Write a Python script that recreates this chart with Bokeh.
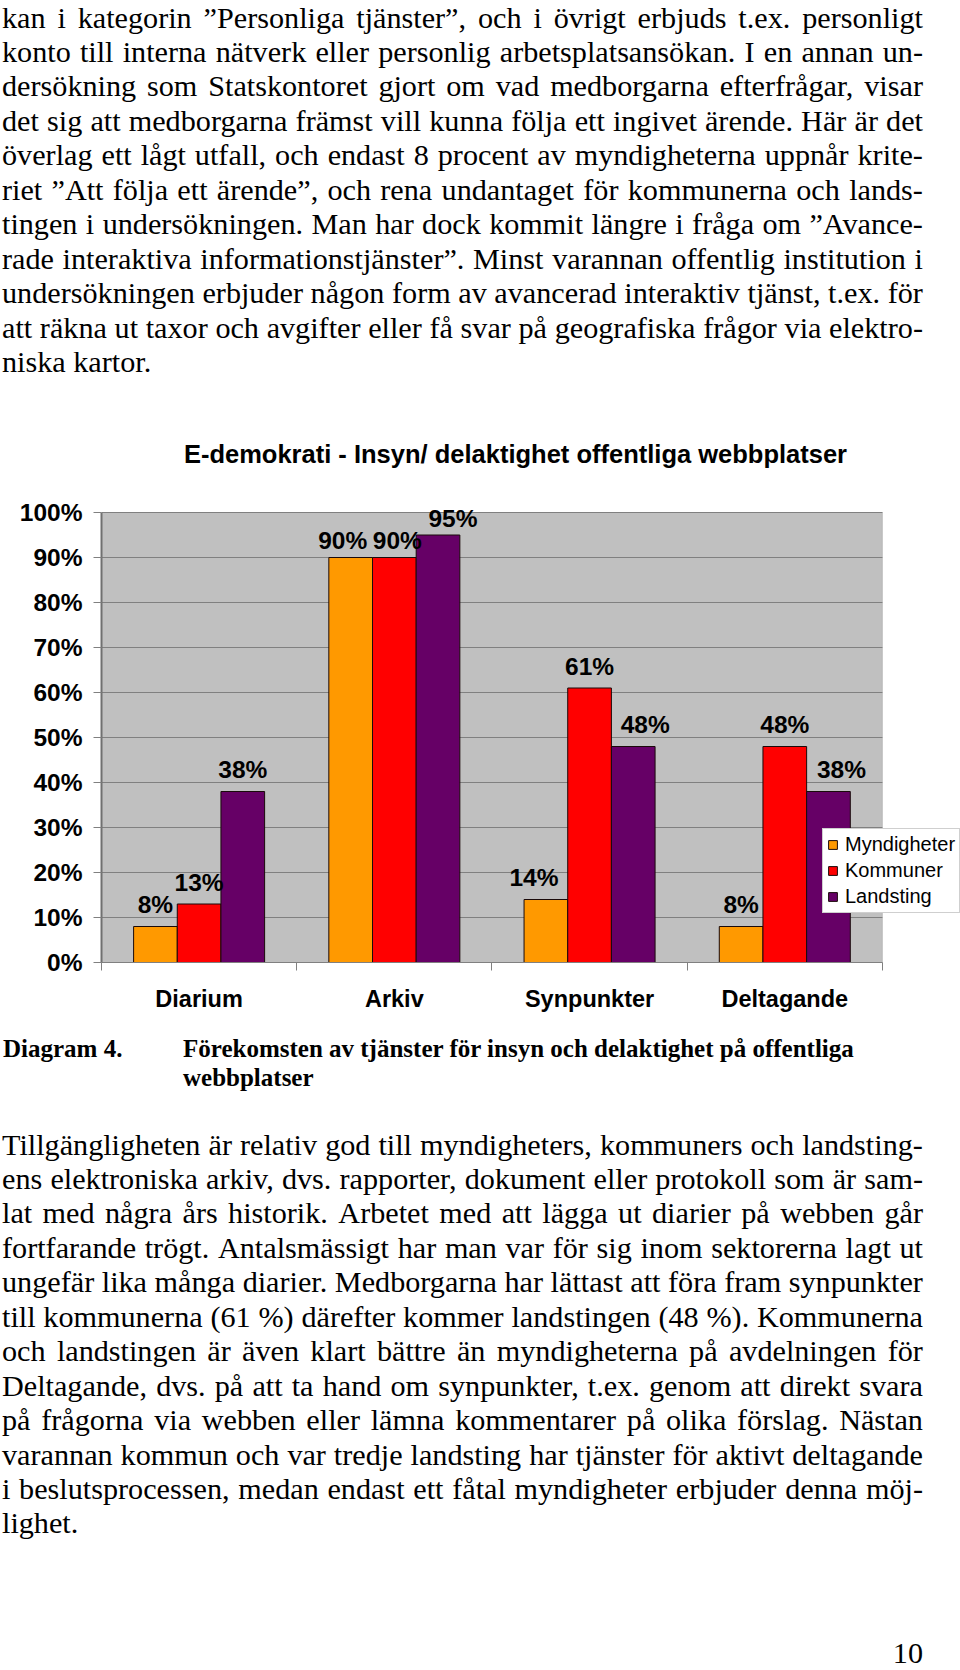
from bokeh.plotting import figure
from bokeh.models import (ColumnDataSource, FixedTicker, Legend, LegendItem, Div,
                          Range1d, LabelSet, Label, BoxAnnotation)
from bokeh.layouts import column
from bokeh.transform import dodge
from bokeh.embed import file_html
from bokeh.resources import INLINE
from bokeh.core.properties import value

# ---------------- data ----------------
categories = ["Diarium", "Arkiv", "Synpunkter", "Deltagande"]
series_names = ["Myndigheter", "Kommuner", "Landsting"]
myndigheter = [8, 90, 14, 8]
kommuner = [13, 90, 61, 48]
landsting = [38, 95, 48, 38]
y_ticks = [0, 10, 20, 30, 40, 50, 60, 70, 80, 90, 100]
y_tick_labels = ["0%", "10%", "20%", "30%", "40%", "50%", "60%", "70%", "80%", "90%", "100%"]

chart_title = "E-demokrati - Insyn/ delaktighet offentliga webbplatser"

top_lines = [
    "kan i kategorin ”Personliga tjänster”, och i övrigt erbjuds t.ex. personligt",
    "konto till interna nätverk eller personlig arbetsplatsansökan. I en annan un-",
    "dersökning som Statskontoret gjort om vad medborgarna efterfrågar, visar",
    "det sig att medborgarna främst vill kunna följa ett ingivet ärende. Här är det",
    "överlag ett lågt utfall, och endast 8 procent av myndigheterna uppnår krite-",
    "riet ”Att följa ett ärende”, och rena undantaget för kommunerna och lands-",
    "tingen i undersökningen. Man har dock kommit längre i fråga om ”Avance-",
    "rade interaktiva informationstjänster”. Minst varannan offentlig institution i",
    "undersökningen erbjuder någon form av avancerad interaktiv tjänst, t.ex. för",
    "att räkna ut taxor och avgifter eller få svar på geografiska frågor via elektro-",
    "niska kartor.",
]
caption_label = "Diagram 4."
caption_lines = ["Förekomsten av tjänster för insyn och delaktighet på offentliga", "webbplatser"]
bottom_lines = [
    "Tillgängligheten är relativ god till myndigheters, kommuners och landsting-",
    "ens elektroniska arkiv, dvs. rapporter, dokument eller protokoll som är sam-",
    "lat med några års historik. Arbetet med att lägga ut diarier på webben går",
    "fortfarande trögt. Antalsmässigt har man var för sig inom sektorerna lagt ut",
    "ungefär lika många diarier. Medborgarna har lättast att föra fram synpunkter",
    "till kommunerna (61 %) därefter kommer landstingen (48 %). Kommunerna",
    "och landstingen är även klart bättre än myndigheterna på avdelningen för",
    "Deltagande, dvs. på att ta hand om synpunkter, t.ex. genom att direkt svara",
    "på frågorna via webben eller lämna kommentarer på olika förslag. Nästan",
    "varannan kommun och var tredje landsting har tjänster för aktivt deltagande",
    "i beslutsprocessen, medan endast ett fåtal myndigheter erbjuder denna möj-",
    "lighet.",
]
page_number = "10"

# ---------------- style ----------------
colors = ["#FF9900", "#FF0000", "#660066"]
bar_w = 0.2237
offsets = [-bar_w, 0.0, bar_w]
label_nudge_x = {  # pixel nudges of value labels (style only)
    "Myndigheter": [0, -8, -12, 0],
    "Kommuner": [0, 3, 0, 0],
    "Landsting": [0, 15, 12, 13],
}
label_lift = [22, 17, 22, 22]  # pixel lift of value labels per category (style only)
SANS = "Liberation Sans"
SERIF = "Liberation Serif"
n_cat = len(categories)

values = {"Myndigheter": myndigheter, "Kommuner": kommuner, "Landsting": landsting}
data = dict(x=[i + 0.5 for i in range(n_cat)], cat=categories, lift=label_lift)
for name in series_names:
    data[name] = values[name]
    data[name + "_lbl"] = [f"{v}%" for v in values[name]]
    data[name + "_dx"] = label_nudge_x[name]
src = ColumnDataSource(data)

# frame extends right (legend) and up (title) beyond the grey plot area
p = figure(width=960, height=638, x_range=Range1d(0, 4.4), y_range=Range1d(0, 118),
           output_backend="svg", toolbar_location=None, margin=0,
           min_border_left=101, min_border_right=0, min_border_top=39, min_border_bottom=68,
           background_fill_color="white", border_fill_color="white",
           outline_line_color=None)

# grey plot area
p.add_layout(BoxAnnotation(left=0, right=n_cat, bottom=0, top=100, fill_color="#C0C0C0",
                           fill_alpha=1.0, line_color="#808080", line_width=1, level="underlay"))

# grid lines
p.segment(x0=[0] * len(y_ticks), x1=[n_cat] * len(y_ticks), y0=y_ticks, y1=y_ticks,
          line_color="#808080", line_width=1)

# title
p.add_layout(Label(x=n_cat / 2, y=100, x_offset=23.5, y_offset=59, text=chart_title,
                   text_align="center", text_baseline="middle",
                   text_font=SANS, text_font_size="25.5px", text_font_style="bold",
                   text_color="#000000"))

# y axis
p.yaxis.bounds = (0, 100)
p.yaxis.ticker = FixedTicker(ticks=y_ticks, minor_ticks=[])
p.yaxis.major_label_overrides = {t: l for t, l in zip(y_ticks, y_tick_labels)}
p.yaxis.major_tick_out = 8
p.yaxis.major_tick_in = 0
p.yaxis.minor_tick_out = 0
p.yaxis.axis_line_color = "#707070"
p.yaxis.axis_line_width = 2
p.yaxis.major_tick_line_color = "#808080"
p.yaxis.major_label_standoff = 11
p.yaxis.major_label_text_font = SANS
p.yaxis.major_label_text_font_size = "24.5px"
p.yaxis.major_label_text_font_style = "bold"
p.yaxis.major_label_text_color = "#000000"

# x axis
xt = [i + 0.5 for i in range(n_cat)]
p.xaxis.bounds = (0, n_cat)
p.xaxis.ticker = FixedTicker(ticks=xt, minor_ticks=list(range(n_cat + 1)))
p.xaxis.major_label_overrides = {t: c for t, c in zip(xt, categories)}
p.xaxis.major_tick_out = 0
p.xaxis.major_tick_in = 0
p.xaxis.minor_tick_out = 8
p.xaxis.minor_tick_in = 0
p.xaxis.minor_tick_line_color = "#808080"
p.xaxis.axis_line_color = "#808080"
p.xaxis.major_label_standoff = 15
p.xaxis.major_label_text_font = SANS
p.xaxis.major_label_text_font_size = "23.5px"
p.xaxis.major_label_text_font_style = "bold"
p.xaxis.major_label_text_color = "#000000"

p.xgrid.grid_line_color = None
p.ygrid.grid_line_color = None

items = []
for j, name in enumerate(series_names):
    r = p.vbar(x=dodge("x", offsets[j]), top=name, width=bar_w, bottom=0, source=src,
               fill_color=colors[j], line_color="#1a0a0a", line_width=1)
    items.append(LegendItem(label=name, renderers=[r]))
    labels = LabelSet(x=dodge("x", offsets[j]), y=name, text=name + "_lbl", source=src,
                      x_offset=name + "_dx", y_offset="lift",
                      text_align="center", text_baseline="middle",
                      text_font=value(SANS), text_font_size="24.5px", text_font_style="bold",
                      text_color="#000000")
    p.add_layout(labels)

legend = Legend(items=items, location=(721, 49), orientation="vertical",
                glyph_width=11, glyph_height=11, label_standoff=7, spacing=3, padding=4, margin=0,
                label_text_font=SANS, label_text_font_size="20px", label_text_color="#000000",
                border_line_color="#A0A0A0", border_line_width=1,
                background_fill_color="white", background_fill_alpha=1.0)
p.add_layout(legend)

# ---------------- text blocks ----------------
LH = 34.45
FS = 30.2


def text_block(lines, top):
    rows = []
    for i, ln in enumerate(lines):
        if i < len(lines) - 1:
            spans = "".join(f"<span>{w}</span>" for w in ln.split(" "))
            rows.append(f'<div style="display:flex;justify-content:space-between;height:{LH}px;white-space:nowrap">{spans}</div>')
        else:
            rows.append(f'<div style="height:{LH}px;white-space:nowrap">{ln}</div>')
    return (f'<div style="position:relative;left:2px;top:{top}px;width:921px;'
            f'font-family:\'{SERIF}\';font-size:{FS}px;line-height:{LH}px;color:#000">'
            + "".join(rows) + "</div>")


top_div = Div(text=text_block(top_lines, 0.6), width=960, height=392, margin=0)

cap_html = (f'<div style="position:relative;left:0;top:4.3px;width:940px;height:70px;'
            f'font-family:\'{SERIF}\';font-weight:bold;font-size:25px;line-height:29px;color:#000">'
            f'<div style="position:absolute;left:3px;top:0;white-space:nowrap">{caption_label}</div>'
            f'<div style="position:absolute;left:183px;top:0;white-space:nowrap">{"<br>".join(caption_lines)}</div>'
            '</div>')
cap_div = Div(text=cap_html, width=960, height=80, margin=0)

bottom_div = Div(text=text_block(bottom_lines, 17.6), width=960, height=440, margin=0)

pn_html = (f'<div style="position:relative;left:2px;top:90px;width:921px;text-align:right;'
           f'font-family:\'{SERIF}\';font-size:{FS}px;line-height:26px;color:#000">{page_number}</div>')
pn_div = Div(text=pn_html, width=960, height=120, margin=0)

layout = column(top_div, p, cap_div, bottom_div, pn_div, spacing=0, margin=0)

open("out.html", "w").write(file_html(layout, INLINE))
